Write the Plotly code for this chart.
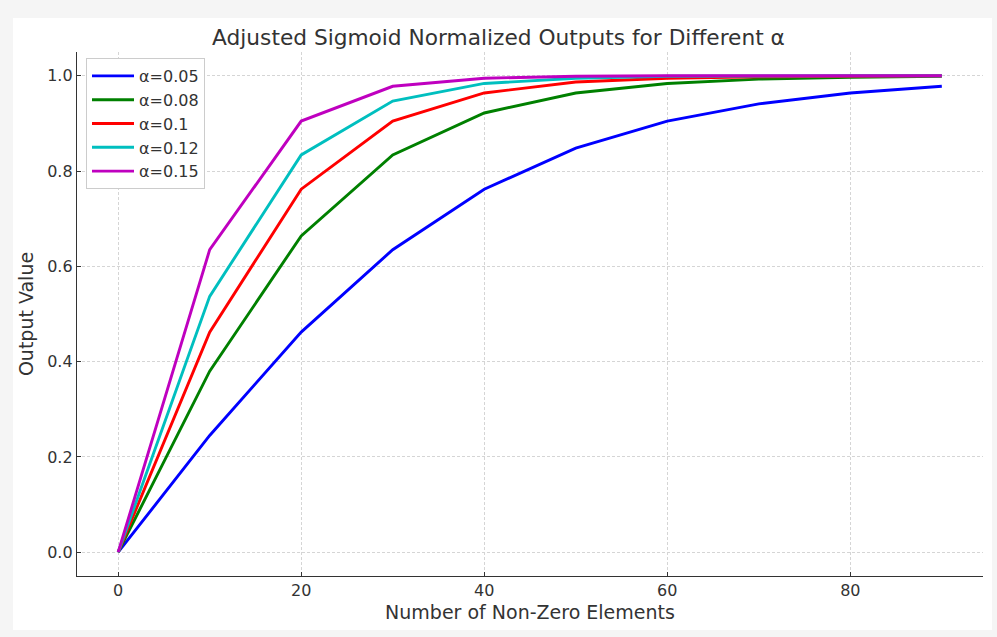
import plotly.graph_objects as go

x_vals = [0, 10, 20, 30, 40, 50, 60, 70, 80, 90]
alpha_labels = ["α=0.05", "α=0.08", "α=0.1", "α=0.12", "α=0.15"]
y_a005 = [0, 0.245, 0.462, 0.635, 0.762, 0.848, 0.905, 0.941, 0.964, 0.978]
y_a008 = [0, 0.380, 0.664, 0.834, 0.922, 0.964, 0.984, 0.993, 0.997, 0.999]
y_a010 = [0, 0.462, 0.762, 0.905, 0.964, 0.987, 0.995, 0.998, 0.999, 1.0]
y_a012 = [0, 0.537, 0.834, 0.947, 0.984, 0.995, 0.999, 1.0, 1.0, 1.0]
y_a015 = [0, 0.635, 0.905, 0.978, 0.995, 0.999, 1.0, 1.0, 1.0, 1.0]
colors = ["#0000ff", "#008000", "#ff0000", "#00bfbf", "#bf00bf"]
x_ticks = [0, 20, 40, 60, 80]
y_ticks = [0.0, 0.2, 0.4, 0.6, 0.8, 1.0]

series = [y_a005, y_a008, y_a010, y_a012, y_a015]

fig = go.Figure()
for name, ys, c in zip(alpha_labels, series, colors):
    fig.add_trace(go.Scatter(x=x_vals, y=ys, mode="lines", name=name,
                             line=dict(color=c, width=2.9)))

font_family = "DejaVu Sans, sans-serif"
txt = "#333333"
W, H = 997, 637
L, R, T, B = 77, 983, 52, 576
pw, ph = R - L, B - T

def px_x(p):
    return (p - L) / pw

def px_y(p):
    return (B - p) / ph

fig.add_shape(type="rect", xref="paper", yref="paper",
              x0=px_x(13), x1=px_x(992), y0=px_y(630), y1=px_y(18),
              fillcolor="white", line=dict(width=0), layer="below")

axis_common = dict(
    showline=True, linecolor=txt, linewidth=1.3,
    ticks="inside", ticklen=4, tickwidth=1.2, tickcolor=txt,
    showgrid=True, gridcolor="#d5d5d5", gridwidth=0.8, griddash="3px,2px",
    zeroline=False, mirror=False,
    tickfont=dict(family=font_family, size=16, color=txt),
)

fig.update_xaxes(range=[-4.5, 94.5], tickvals=x_ticks,
                 title=dict(text="Number of Non-Zero Elements",
                            font=dict(family=font_family, size=19, color=txt),
                            standoff=6),
                 **axis_common)
fig.update_yaxes(range=[-0.05, 1.05], tickvals=y_ticks, tickformat=".1f",
                 title=dict(text="Output Value",
                            font=dict(family=font_family, size=19, color=txt),
                            standoff=8),
                 **axis_common)

fig.update_layout(
    width=W, height=H,
    margin=dict(l=L, r=W - R, t=T, b=H - B, pad=0),
    paper_bgcolor="#f5f5f5",
    plot_bgcolor="white",
    title=dict(text="Adjusted Sigmoid Normalized Outputs for Different α",
               x=px_x(530), xanchor="center", y=1 - 37 / H, yanchor="middle",
               font=dict(family=font_family, size=21.7, color=txt)),
    legend=dict(x=px_x(86), y=px_y(58), xanchor="left", yanchor="top",
                bgcolor="white", bordercolor="#cccccc", borderwidth=1,
                font=dict(family=font_family, size=16, color=txt),
                itemwidth=42, tracegroupgap=0),
    showlegend=True,
)

fig.write_html("out.html", config={"displayModeBar": False},
               post_script="document.body.style.margin='0';document.body.style.background='#f5f5f5';")
